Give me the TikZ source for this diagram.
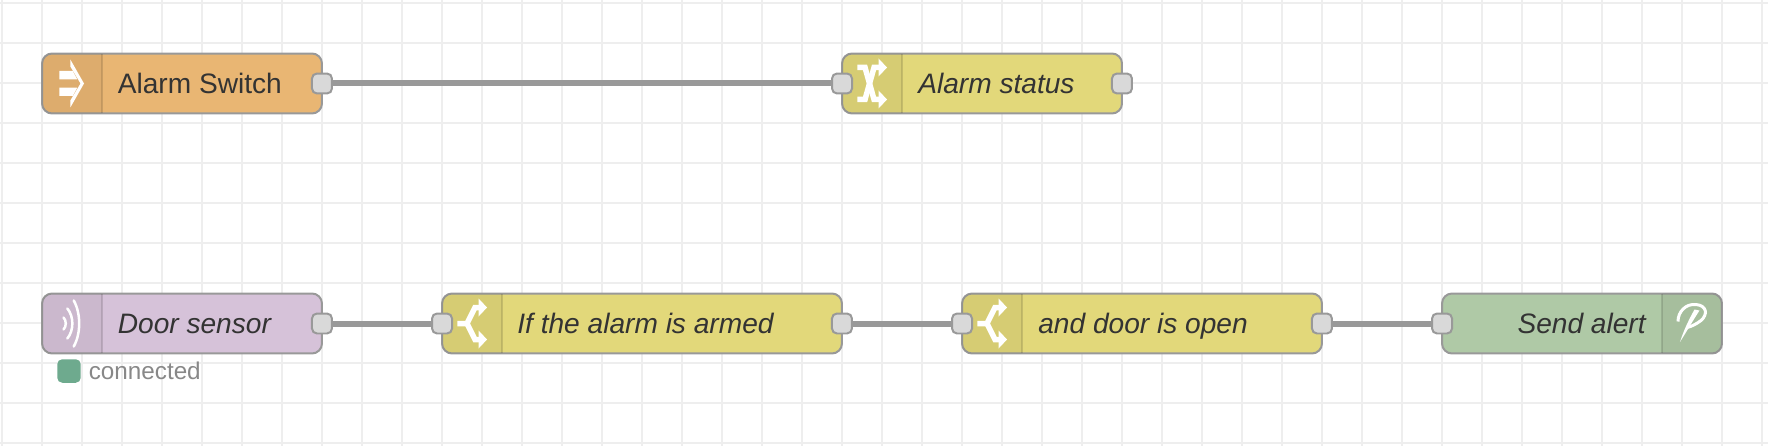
\documentclass[tikz,border=0pt]{standalone}
\usepackage{fontspec}
\setmainfont{Liberation Sans}
\usepackage{xcolor}
\definecolor{gridgray}{HTML}{EEEEEE}
\definecolor{wiregray}{HTML}{999999}
\definecolor{portgray}{HTML}{D9D9D9}
\definecolor{inkgray}{HTML}{333333}
\definecolor{statusgray}{HTML}{888888}
\definecolor{linkorange}{HTML}{E9B673}
\definecolor{funcyellow}{HTML}{E2D87A}
\definecolor{sensorpurple}{HTML}{D6C2D9}
\definecolor{alertgreen}{HTML}{AFC9A6}
\definecolor{statusgreen}{HTML}{6EAA8E}

% icon strip on either side of a node, 60 units wide
\newcommand{\stripleft}[1]{%
\fill[stripshade] ([xshift=1.2cm]#1.north west) -- ([xshift=1.2cm]#1.south west) [rounded corners=0.2cm] -- (#1.south west) -- (#1.north west) [sharp corners] -- cycle;
\draw[stripline] ([xshift=1.2cm]#1.north west) -- ([xshift=1.2cm]#1.south west);
}
\newcommand{\stripright}[1]{%
\fill[stripshade] ([xshift=-1.2cm]#1.north east) -- ([xshift=-1.2cm]#1.south east) [rounded corners=0.2cm] -- (#1.south east) -- (#1.north east) [sharp corners] -- cycle;
\draw[stripline] ([xshift=-1.2cm]#1.north east) -- ([xshift=-1.2cm]#1.south east);
}

\begin{document}
\begin{tikzpicture}[
			     x=0.02cm, y=-0.02cm,
			     flownode/.style={draw=wiregray,line width=0.04cm,rounded corners=0.2cm,minimum height=1.2cm,inner sep=0pt,outer sep=0pt},
			     flowport/.style={draw=wiregray,fill=portgray,line width=0.04cm,rounded corners=0.1cm,minimum width=0.4cm,minimum height=0.4cm,inner sep=0pt,outer sep=0pt},
			     flowtext/.style={text=inkgray,inner sep=0pt,font=\fontsize{16}{18}\selectfont},
			     flowwire/.style={draw=wiregray,line width=0.12cm},
			     stripshade/.style={fill=black,fill opacity=0.05},
			     stripline/.style={draw=black,draw opacity=0.12,line width=0.04cm},
			     iconline/.style={draw=white,line width=0.11cm},
			     iconwave/.style={draw=white,line width=0.05cm,line cap=round},
			     pics/linkicon/.style={code={
			       \fill[white] (17.3,-12.5) -- (30.7,-12.5) -- (35.2,-4.2) -- (17.3,-4.2) -- cycle;
			       \fill[white] (17.3,4.2) -- (35.2,4.2) -- (30.7,12.5) -- (17.3,12.5) -- cycle;
			       \fill[white] (28.3,-24) -- (42,0) -- (28.3,24) -- (28.3,17) -- (38.5,0) -- (28.3,-17) -- cycle;
			     }},
			     pics/shuffleicon/.style={code={
			       \draw[iconline] (15.3,-16) -- (23,-16) -- (32,16) -- (38,16);
			       \draw[iconline] (15.3,16) -- (23,16) -- (32,-16) -- (38,-16);
			       \fill[white] (36.5,-25) -- (45,-16) -- (36.5,-7) -- cycle;
			       \fill[white] (36.5,7) -- (45,16) -- (36.5,25) -- cycle;
			     }},
			     pics/spliticon/.style={code={
			       \draw[iconline] (15.3,0) -- (25,0) -- (33,-16) -- (38,-16);
			       \draw[iconline] (25,0) -- (33,16) -- (38,16);
			       \fill[white] (36.5,-25) -- (45,-16) -- (36.5,-7) -- cycle;
			       \fill[white] (36.5,7) -- (45,16) -- (36.5,25) -- cycle;
			     }},
			     pics/sensoricon/.style={code={
			       \draw[iconwave] (21.5,-6) .. controls (24.5,-3) and (24.5,3) .. (21.5,6);
			       \draw[iconwave] (25.3,-15) .. controls (32,-7) and (32,7) .. (25.3,15);
			       \draw[iconwave] (31.7,-23) .. controls (39,-10) and (39,10) .. (31.7,23);
			     }},
			     pics/pushicon/.style={code={
			       \fill[white] (-42,18.5) .. controls (-38,6) and (-33,-4) .. (-27.5,-14) -- (-22.5,-13) .. controls (-29,-3) and (-36,9) .. (-42,18.5) -- cycle;
			       \draw[white,line width=0.06cm] (-44,-2) .. controls (-44,-12) and (-36,-20) .. (-26,-19) .. controls (-15,-18) and (-14,-9) .. (-21,-3) .. controls (-25,0) and (-30,3) .. (-35,4);
			     }}
			     ]
\useasboundingbox (0,0) rectangle (1768,446);
\fill[white] (0,0) rectangle (1768,446);

% background grid
\foreach \gx in {0,...,44} {
  \draw[gridgray,line width=0.04cm] ({1.7+40*\gx},0) -- ({1.7+40*\gx},446);
}
\foreach \gy in {0,...,11} {
  \draw[gridgray,line width=0.04cm] (0,{3.3+40*\gy}) -- (1768,{3.3+40*\gy});
}

% flow nodes
\node[flownode,fill=linkorange,minimum width=5.6cm] (alarmswitch) at (182,83.5) {};
\node[flownode,fill=funcyellow,minimum width=5.6cm] (alarmstatus) at (982,83.5) {};
\node[flownode,fill=sensorpurple,minimum width=5.6cm] (doorsensor) at (182,323.5) {};
\node[flownode,fill=funcyellow,minimum width=8.0cm] (ifarmed) at (642,323.5) {};
\node[flownode,fill=funcyellow,minimum width=7.2cm] (dooropen) at (1142,323.5) {};
\node[flownode,fill=alertgreen,minimum width=5.6cm] (sendalert) at (1582,323.5) {};

\stripleft{alarmswitch}
\stripleft{alarmstatus}
\stripleft{doorsensor}
\stripleft{ifarmed}
\stripleft{dooropen}
\stripright{sendalert}

% icons
\pic at (alarmswitch.west) {linkicon};
\pic at (alarmstatus.west) {shuffleicon};
\pic at (doorsensor.west) {sensoricon};
\pic at (ifarmed.west) {spliticon};
\pic at (dooropen.west) {spliticon};
\pic at (sendalert.east) {pushicon};

% ports
\node[flowport] (alarmswitch-out) at (alarmswitch.east) {};
\node[flowport] (alarmstatus-in) at (alarmstatus.west) {};
\node[flowport] (alarmstatus-out) at (alarmstatus.east) {};
\node[flowport] (doorsensor-out) at (doorsensor.east) {};
\node[flowport] (ifarmed-in) at (ifarmed.west) {};
\node[flowport] (ifarmed-out) at (ifarmed.east) {};
\node[flowport] (dooropen-in) at (dooropen.west) {};
\node[flowport] (dooropen-out) at (dooropen.east) {};
\node[flowport] (sendalert-in) at (sendalert.west) {};

% wires
\draw[flowwire] (alarmswitch-out) -- (alarmstatus-in);
\draw[flowwire] (doorsensor-out) -- (ifarmed-in);
\draw[flowwire] (ifarmed-out) -- (dooropen-in);
\draw[flowwire] (dooropen-out) -- (sendalert-in);

% labels
\node[flowtext,anchor=base west] (alarmswitch-text) at (117.5,93) {Alarm Switch};
\node[flowtext,anchor=base west] (alarmstatus-text) at (918,93) {\itshape Alarm status};
\node[flowtext,anchor=base west] (doorsensor-text) at (117.5,333) {\itshape Door sensor};
\node[flowtext,anchor=base west] (ifarmed-text) at (517,333) {\itshape If the alarm is armed};
\node[flowtext,anchor=base west] (dooropen-text) at (1038,333) {\itshape and door is open};
\node[flowtext,anchor=base east] (sendalert-text) at (1646,333) {\itshape Send alert};

% status
\node[fill=statusgreen,rounded corners=0.1cm,minimum width=0.47cm,minimum height=0.47cm,inner sep=0pt] (doorstatus) at (69,371) {};
\node[anchor=base west,text=statusgray,inner sep=0pt,font=\fontsize{13.8}{16}\selectfont] (doorstatus-text) at (88.5,379.8) {connected};
\end{tikzpicture}
\end{document}
